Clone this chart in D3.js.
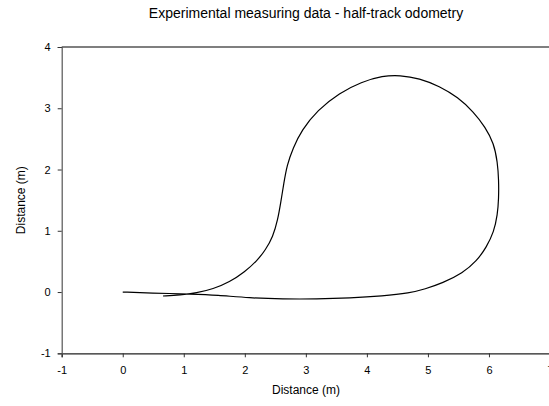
<!DOCTYPE html>
<html><head><meta charset="utf-8">
<script src="https://cdn.jsdelivr.net/npm/d3@7"></script>
<style>body{margin:0;background:#fff}svg{display:block}text{font-family:"Liberation Sans",Arial,sans-serif;fill:#000}</style>
</head><body>
<svg id="c" width="549" height="406"></svg>
<script>
const title = "Experimental measuring data - half-track odometry";
const xLabel = "Distance (m)";
const yLabel = "Distance (m)";
const xTicks = [-1,0,1,2,3,4,5,6,7];
const yTicks = [-1,0,1,2,3,4];
const pathX = [0.00,0.45,1.15,1.54,2.08,2.62,3.18,3.72,4.26,4.70,4.95,5.24,5.57,5.80,5.96,6.08,6.14,6.16,6.16,6.14,6.08,5.94,5.75,5.49,5.19,4.86,4.54,4.26,3.91,3.55,3.19,2.93,2.79,2.69,2.64,2.59,2.54,2.46,2.34,2.20,2.00,1.75,1.48,1.21,0.94,0.66];
const pathY = [0.00,-0.016,-0.033,-0.049,-0.098,-0.114,-0.114,-0.098,-0.065,-0.016,0.049,0.147,0.31,0.506,0.735,0.98,1.26,1.53,1.83,2.12,2.43,2.69,2.94,3.18,3.36,3.49,3.54,3.53,3.43,3.25,2.97,2.64,2.35,2.07,1.78,1.47,1.18,0.90,0.69,0.51,0.33,0.163,0.049,-0.016,-0.049,-0.065];

const svg = d3.select("#c");
const x = d3.scaleLinear().domain([-1,7]).range([61.7,550]);
const y = d3.scaleLinear().domain([-1,4]).range([353.3,47]);

svg.append("line").attr("x1",x(-1)).attr("x2",x(7)).attr("y1",y(4)).attr("y2",y(4)).attr("stroke","#000").attr("stroke-width",1.2);
svg.append("line").attr("x1",x(7)).attr("x2",x(7)).attr("y1",y(4)).attr("y2",y(-1)).attr("stroke","#000").attr("stroke-width",1.2);

const fmt = d => String(d);
const xa = svg.append("g").attr("transform",`translate(0,${y(-1)})`)
  .call(d3.axisBottom(x).tickValues(xTicks).tickFormat(fmt).tickSize(4).tickPadding(9));
const ya = svg.append("g").attr("transform",`translate(${x(-1)},0)`)
  .call(d3.axisLeft(y).tickValues(yTicks).tickFormat(fmt).tickSize(4).tickPadding(7));
[xa,ya].forEach(a=>{
  a.select(".domain").attr("stroke","#222").attr("stroke-width",1.2);
  a.selectAll(".tick line").attr("stroke","#333");
  a.selectAll("text").style("font-size","11px").attr("fill","#000");
});
ya.select(".domain").attr("stroke","#555");

const line = d3.line().x(d=>x(d[0])).y(d=>y(d[1])).curve(d3.curveBasis);
svg.append("path").datum(d3.zip(pathX,pathY)).attr("d",line)
  .attr("fill","none").attr("stroke","#000").attr("stroke-width",1.2);

svg.append("text").attr("x",306).attr("y",18).attr("text-anchor","middle").style("font-size","14px").text(title);
svg.append("text").attr("x",306).attr("y",394).attr("text-anchor","middle").style("font-size","12px").text(xLabel);
svg.append("text").attr("transform",`translate(25,${(y(-1)+y(4))/2}) rotate(-90)`).attr("text-anchor","middle").style("font-size","12px").text(yLabel);
</script>
</body></html>
